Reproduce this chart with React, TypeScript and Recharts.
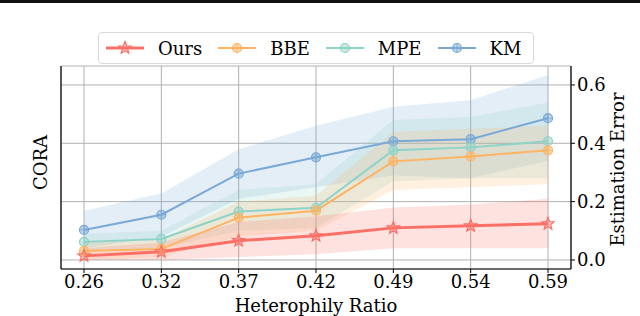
import {
  Area,
  CartesianGrid,
  ComposedChart,
  Line,
  XAxis,
  YAxis,
} from "recharts";

const ratios = ["0.26", "0.32", "0.37", "0.42", "0.49", "0.54", "0.59"];

const ours = [0.014, 0.028, 0.066, 0.083, 0.11, 0.117, 0.124];
const oursLow = [0.0, 0.0, 0.01, 0.02, 0.04, 0.04, 0.04];
const oursHigh = [0.04, 0.06, 0.13, 0.15, 0.18, 0.19, 0.21];

const bbe = [0.031, 0.038, 0.145, 0.169, 0.338, 0.355, 0.376];
const bbeLow = [0.0, 0.01, 0.08, 0.1, 0.24, 0.25, 0.26];
const bbeHigh = [0.06, 0.07, 0.2, 0.22, 0.44, 0.45, 0.46];

const mpe = [0.062, 0.072, 0.166, 0.179, 0.376, 0.386, 0.407];
const mpeLow = [0.03, 0.04, 0.1, 0.11, 0.27, 0.28, 0.28];
const mpeHigh = [0.09, 0.1, 0.24, 0.26, 0.48, 0.49, 0.54];

const km = [0.103, 0.155, 0.296, 0.352, 0.407, 0.414, 0.486];
const kmLow = [0.04, 0.08, 0.21, 0.25, 0.29, 0.28, 0.34];
const kmHigh = [0.169, 0.228, 0.38, 0.46, 0.525, 0.548, 0.634];

const yTicks = [0, 0.2, 0.4, 0.6];

const RED = "#fa7066";
const ORANGE = "#fdb462";
const TEAL = "#8dd3c7";
const BLUE = "#7aa9d6";
const FONT = "'DejaVu Serif', serif";

const data = ratios.map((r, i) => ({
  ratio: r,
  ours: ours[i],
  oursBand: [oursLow[i], oursHigh[i]],
  bbe: bbe[i],
  bbeBand: [bbeLow[i], bbeHigh[i]],
  mpe: mpe[i],
  mpeBand: [mpeLow[i], mpeHigh[i]],
  km: km[i],
  kmBand: [kmLow[i], kmHigh[i]],
}));

const starPath = (cx: number, cy: number, ro: number, ri: number) => {
  let d = "";
  for (let k = 0; k < 10; k++) {
    const r = k % 2 === 0 ? ro : ri;
    const a = -Math.PI / 2 + (k * Math.PI) / 5;
    d += (k === 0 ? "M" : "L") + (cx + r * Math.cos(a)).toFixed(2) + "," + (cy + r * Math.sin(a)).toFixed(2);
  }
  return d + "Z";
};

const Marker = ({ cx, cy, kind, color }: any) => {
  if (cx == null || cy == null) return null;
  if (kind === "star")
    return (
      <path d={starPath(cx, cy, 6.5, 2.8)} fill={color} fillOpacity={0.4} stroke={color} strokeWidth={1.2} />
    );
  return (
    <g>
      <circle cx={cx} cy={cy} r={4.5} fill={color} fillOpacity={0.5} stroke={color} strokeWidth={1.2} />
      {kind === "plus" && (
        <path d={`M${cx - 4.5},${cy}H${cx + 4.5}M${cx},${cy - 4.5}V${cy + 4.5}`} stroke={color} strokeWidth={0.8} />
      )}
    </g>
  );
};

const dotFor = (kind: string, color: string) => (p: any) =>
  <Marker key={`${kind}-${color}-${p.index}`} cx={p.cx} cy={p.cy} kind={kind} color={color} />;

const EmptyTick = () => <g />;

const LeftLabel = ({ viewBox }: any) => {
  const x = viewBox.x + 40;
  const y = viewBox.y + viewBox.height / 2 - 5;
  return (
    <text x={x} y={y} transform={`rotate(-90 ${x} ${y})`} textAnchor="middle" dominantBaseline="central" fontFamily={FONT} fontSize={18} fill="#000">
      CORA
    </text>
  );
};

const RightLabel = ({ viewBox }: any) => {
  const x = viewBox.x + 46;
  const y = viewBox.y + viewBox.height / 2 + 2;
  return (
    <text x={x} y={y} transform={`rotate(-90 ${x} ${y})`} textAnchor="middle" dominantBaseline="central" fontFamily={FONT} fontSize={18} fill="#000">
      Estimation Error
    </text>
  );
};

const legendItems = [
  { name: "Ours", color: RED, kind: "star", w: 3 },
  { name: "BBE", color: ORANGE, kind: "plus", w: 2 },
  { name: "MPE", color: TEAL, kind: "circle", w: 2 },
  { name: "KM", color: BLUE, kind: "plus", w: 2 },
];

const ChartLegend = () => (
  <div
    style={{
      position: "absolute",
      left: 98,
      top: 32,
      width: 436,
      height: 32,
      border: "1px solid #d8d8d8",
      borderRadius: 4,
      background: "#fff",
      display: "flex",
      alignItems: "center",
      boxSizing: "border-box",
      paddingLeft: 6,
      fontFamily: FONT,
      fontSize: 18,
    }}
  >
    {legendItems.map((it) => (
      <div key={it.name} style={{ display: "flex", alignItems: "center", marginRight: 15 }}>
        <svg width={40} height={16}>
          <line x1={1} y1={8} x2={39} y2={8} stroke={it.color} strokeWidth={it.w} />
          <Marker cx={20} cy={8} kind={it.kind} color={it.color} />
        </svg>
        <span style={{ marginLeft: 13 }}>{it.name}</span>
      </div>
    ))}
  </div>
);

export default function App() {
  return (
    <div style={{ position: "absolute", left: 0, top: 0, width: 640, height: 316, background: "#fff" }}>
      <div style={{ position: "absolute", left: 0, top: 0, width: 640, height: 3, background: "#111" }} />
      <ComposedChart width={640} height={316} data={data} margin={{ top: 66, right: 0, bottom: 0, left: 0 }}>
        <CartesianGrid yAxisId="right" stroke="#b0b0b0" strokeWidth={1} />
        <XAxis
          dataKey="ratio"
          scale="point"
          padding={{ left: 23, right: 23 }}
          height={47}
          tickLine={{ stroke: "#000" }}
          tickSize={4}
          axisLine={{ stroke: "#000", strokeWidth: 1.2 }}
          tick={{ fill: "#000", fontSize: 18, fontFamily: FONT }}
          interval={0}
          label={{ value: "Heterophily Ratio", position: "insideBottom", offset: 4, fill: "#000", fontSize: 18, fontFamily: FONT }}
        />
        <XAxis xAxisId="top" dataKey="ratio" orientation="top" height={0} tick={false} tickLine={false} axisLine={{ stroke: "#000", strokeWidth: 1.2 }} />
        <YAxis
          yAxisId="left"
          orientation="left"
          width={61}
          domain={[-0.031, 0.665]}
          ticks={yTicks}
          type="number"
          tick={<EmptyTick />}
          tickSize={3}
          tickLine={{ stroke: "#000" }}
          axisLine={{ stroke: "#000", strokeWidth: 1.2 }}
          label={<LeftLabel />}
        />
        <YAxis
          yAxisId="right"
          orientation="right"
          width={69}
          domain={[-0.031, 0.665]}
          ticks={yTicks}
          type="number"
          tickFormatter={(v: number) => v.toFixed(1)}
          tick={{ fill: "#000", fontSize: 18, fontFamily: FONT }}
          tickSize={4}
          tickLine={{ stroke: "#000" }}
          axisLine={{ stroke: "#000", strokeWidth: 1.2 }}
          label={<RightLabel />}
        />
        <Area yAxisId="right" type="linear" dataKey="kmBand" stroke="none" fill={BLUE} fillOpacity={0.2} isAnimationActive={false} />
        <Area yAxisId="right" type="linear" dataKey="mpeBand" stroke="none" fill={TEAL} fillOpacity={0.2} isAnimationActive={false} />
        <Area yAxisId="right" type="linear" dataKey="bbeBand" stroke="none" fill={ORANGE} fillOpacity={0.2} isAnimationActive={false} />
        <Area yAxisId="right" type="linear" dataKey="oursBand" stroke="none" fill={RED} fillOpacity={0.2} isAnimationActive={false} />
        <Line yAxisId="right" type="linear" dataKey="km" stroke={BLUE} strokeWidth={2} dot={dotFor("plus", BLUE)} isAnimationActive={false} />
        <Line yAxisId="right" type="linear" dataKey="mpe" stroke={TEAL} strokeWidth={2} dot={dotFor("circle", TEAL)} isAnimationActive={false} />
        <Line yAxisId="right" type="linear" dataKey="bbe" stroke={ORANGE} strokeWidth={2} dot={dotFor("plus", ORANGE)} isAnimationActive={false} />
        <Line yAxisId="right" type="linear" dataKey="ours" stroke={RED} strokeWidth={3} dot={dotFor("star", RED)} isAnimationActive={false} />
      </ComposedChart>
      <ChartLegend />
    </div>
  );
}
